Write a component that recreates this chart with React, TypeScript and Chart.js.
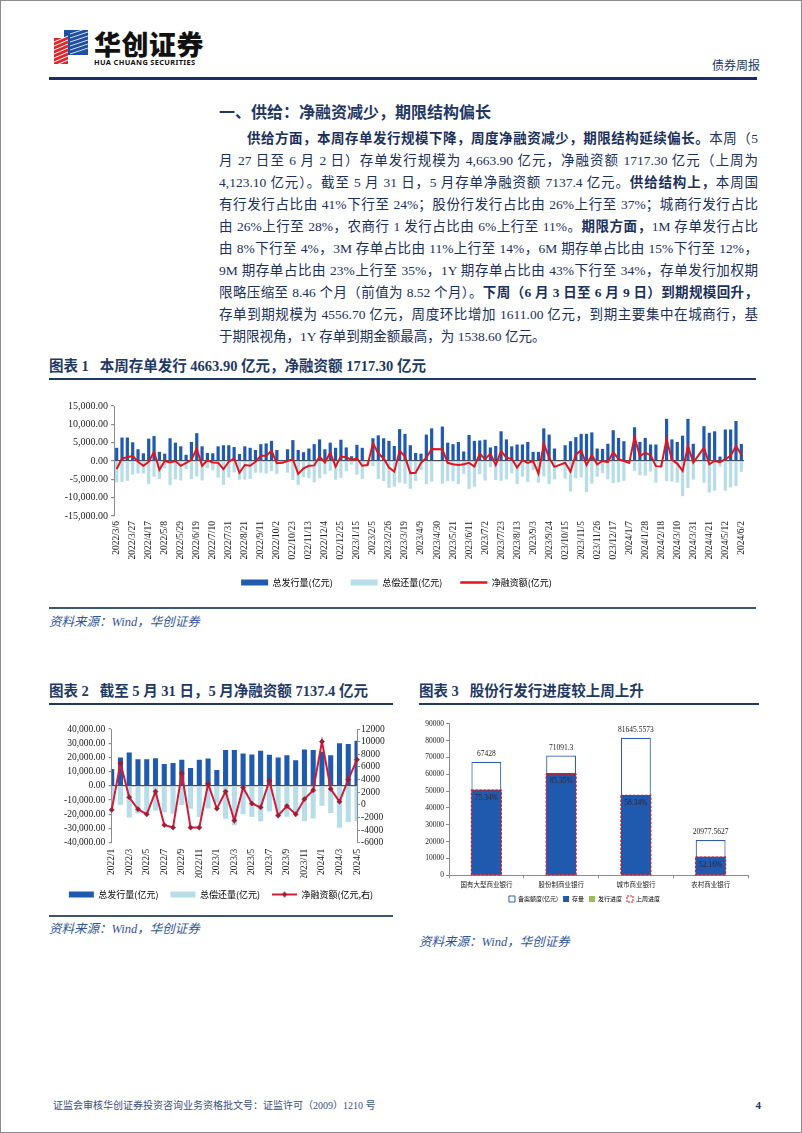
import React, { useEffect, useRef } from 'react';
import { Chart, registerables } from 'chart.js';

Chart.register(...registerables);

const SERIF = "'Liberation Serif', 'Times New Roman', serif";
const CJK = "'Noto Sans CJK SC', 'Noto Sans', sans-serif";
const MIX = "'Liberation Serif', 'Noto Sans CJK SC', serif";
const NAVY = '#1F3864';
const TEXT = '#1b2f5a';
const BLUE = '#1F5AAE';
const LIGHT = '#B7DDE8';
const RED = '#E3141B';
const CRIMSON = '#D01C3A';

Chart.defaults.font.family = SERIF;

// ---------- Chart 1: weekly data (亿元) ----------
function weeklyCategories(count: number): string[] {
  const out: string[] = [];
  const d = new Date(Date.UTC(2022, 2, 6));
  for (let i = 0; i < count; i++) {
    out.push(`${d.getUTCFullYear()}/${d.getUTCMonth() + 1}/${d.getUTCDate()}`);
    d.setUTCDate(d.getUTCDate() + 7);
  }
  return out;
}
const weekLabels = weeklyCategories(118);

const weekIssue = [
  3600, 6400, 6400, 5100, 3200, 2100, 6100, 6800, 2500, 2000,
  6200, 5000, 4000, 1700, 5200, 7600, 4000, 2200, 2100, 4000,
  4300, 4300, 3800, 1900, 4000, 3600, 3000, 4600, 4800, 5500,
  3000, 300, 3200, 5700, 3000, 2400, 3400, 4600, 5900, 3200,
  5000, 3600, 5800, 3700, 1300, 4400, 3600, 200, 6200, 7000,
  6200, 5500, 4100, 8700, 7400, 4300, 2200, 2000, 7200, 8900,
  null, 9400, 5000, 4600, 5200, 2600, 7100, 5500, 5600, 5800,
  3700, 4100, 8100, 5900, 4000, 4500, 4500, 5200, 2500, 2500,
  8900, 7200, 3400, null, 4300, 5400, 6500, 7400, 7400, 7800,
  3400, 3300, 4700, 8400, 6300, 5400, 100, 9200, 5200, 6300,
  4500, 4500, 200, 11500, 5900, 5200, 6900, 11500, 4700, null,
  9500, 7700, 8100, 1200, 8600, 8600, 10900, 4663.9,
];

const weekRepay = [
  -5800, -5700, -5400, -3700, -3400, -3400, -6300, -4300, -4900, -2000,
  -6600, -5000, -5300, -2200, -4900, -4200, -5300, -2000, -2500, -4500,
  -6500, -4500, -3100, -5100, -5100, -4900, -3200, -3200, -3400, -2700,
  -3600, -800, -3200, -5200, -6500, -4400, -4700, -5800, -4700, -3600,
  -2700, -5100, -4600, -2700, -1000, -3700, -4900, -1300, -1400, -4900,
  -5500, -7300, -7000, -5900, -6200, -7600, -5400, -2500, -6300, -5600,
  null, -6200, -5500, -5500, -6300, -3500, -7600, -7000, -3600, -5300,
  -1700, -5200, -5400, -5000, -3400, -6300, -4300, -5700, -2500, -5900,
  -4200, -6300, -5000, null, -4800, -8300, -4700, -4500, -8500, -6200,
  -4300, -3300, -5000, -6000, -5800, -5400, -600, -2700, -3900, -4000,
  -2900, -5900, -1700, -5500, -5600, -5900, -9600, -7400, -5100, null,
  -5900, -8600, -8100, -1500, -8100, -7200, -6800, -2946.6,
];

const weekNet = [
  -2200, 700, 1000, 1400, -200, -1300, -200, 2500, -2400, 0,
  -400, 0, -1300, -500, 300, 3400, -1300, 200, -400, -500,
  -2200, -200, 700, -3200, -1100, -1300, -200, 1400, 1400, 2800,
  -600, -500, 0, 500, -3500, -2000, -1300, -1200, 1200, -400,
  2300, -1500, 1200, 1000, 300, 700, -1300, -1100, 4800, 2100,
  700, -1800, -2900, 2800, 1200, -3300, -3200, -500, 900, 3300,
  null, 3200, -500, -900, -1100, -900, -500, -1500, 2000, 500,
  2000, -1100, 2700, 900, 600, -1800, 200, -500, 0, -3400,
  4700, 900, -1600, null, -500, -2900, 1800, 2900, -1100, 1600,
  -900, 0, -300, 2400, 500, 0, -500, 6500, 1300, 2300,
  1600, -1400, -1500, 6000, 300, -700, -2700, 4100, -400, null,
  3600, -900, 0, -300, 500, 1400, 4100, 1717.3,
];

// ---------- Chart 2: monthly data (亿元) ----------
const monthLabels = [
  '2022/1', '2022/2', '2022/3', '2022/4', '2022/5', '2022/6', '2022/7', '2022/8', '2022/9', '2022/10',
  '2022/11', '2022/12', '2023/1', '2023/2', '2023/3', '2023/4', '2023/5', '2023/6', '2023/7', '2023/8',
  '2023/9', '2023/10', '2023/11', '2023/12', '2024/1', '2024/2', '2024/3', '2024/4', '2024/5',
];
const monthIssue = [
  11800, 20000, 23500, 18800, 18800, 19500, 15300, 16000, 18400, 12500,
  18400, 19300, 11100, 25200, 25200, 22800, 22100, 24700, 21900, 20000,
  21600, 18100, 25600, 25200, 24000, 21600, 29900, 29400, 31800,
];
const monthRepay = [
  -12600, -13400, -22300, -19500, -20300, -17400, -18500, -19600, -13400, -16100,
  -22000, -16000, -11700, -23100, -27700, -20050, -21900, -25100, -18100, -21700,
  -21800, -19600, -24700, -22900, -14000, -19100, -29400, -25400, -24662.6,
];
const monthNet = [
  -800, 6600, 1200, -700, -1500, 2100, -3200, -3600, 5000, -3600,
  -3600, 3300, -600, 2100, -2500, 2750, 200, -400, 3800, -1700,
  -200, -1500, 900, 2300, 10000, 2500, 500, 4000, 7137.4,
];

// ---------- Chart 3: bank types ----------
const bankTypes = ['国有大型商业银行', '股份制商业银行', '城市商业银行', '农村商业银行'];
const quota = [67428, 71091.3, 81645.5573, 20977.5627];
const stock = [50800, 60680, 47630, 10940];
const progress = [75.34, 85.35, 58.34, 52.16];
const prevStock = [50600, 59900, 47500, 10800];

const fmt2 = (v: any) =>
  Number(v).toLocaleString('en-US', { minimumFractionDigits: 2, maximumFractionDigits: 2 });

function WeeklyChart() {
  const ref = useRef<HTMLCanvasElement>(null);
  useEffect(() => {
    const chart = new Chart(ref.current as HTMLCanvasElement, {
      type: 'bar',
      data: {
        labels: weekLabels,
        datasets: [
          { type: 'bar', label: '总发行量(亿元)', data: weekIssue as any, backgroundColor: BLUE, categoryPercentage: 0.6, barPercentage: 1, order: 2 },
          { type: 'bar', label: '总偿还量(亿元)', data: weekRepay as any, backgroundColor: LIGHT, categoryPercentage: 0.6, barPercentage: 1, order: 3 },
          { type: 'line', label: '净融资额(亿元)', data: weekNet as any, borderColor: RED, borderWidth: 2, pointRadius: 0, spanGaps: true, tension: 0, order: 1 },
        ],
      } as any,
      options: {
        animation: false,
        responsive: false,
        events: [],
        layout: { padding: { top: 13, right: 17, bottom: 0, left: 0 } },
        plugins: {
          tooltip: { enabled: false },
          legend: {
            position: 'bottom',
            labels: {
              usePointStyle: true,
              pointStyleWidth: 27,
              boxHeight: 6,
              padding: 18,
              color: '#222',
              font: { family: CJK, size: 9 },
              generateLabels: () => [
                { text: '总发行量(亿元)', fillStyle: BLUE, strokeStyle: BLUE, lineWidth: 0, pointStyle: 'rect', datasetIndex: 0, hidden: false },
                { text: '总偿还量(亿元)', fillStyle: LIGHT, strokeStyle: LIGHT, lineWidth: 0, pointStyle: 'rect', datasetIndex: 1, hidden: false },
                { text: '净融资额(亿元)', fillStyle: RED, strokeStyle: RED, lineWidth: 2.5, pointStyle: 'line', datasetIndex: 2, hidden: false },
              ] as any,
            },
          },
        },
        scales: {
          x: {
            stacked: true,
            offset: true,
            grid: { display: false, drawTicks: false },
            border: { display: false },
            ticks: {
              autoSkip: false,
              minRotation: 90,
              maxRotation: 90,
              padding: 5,
              color: '#222',
              font: { family: SERIF, size: 9.5 },
              callback: (_v: any, i: number) => (i % 3 === 0 ? weekLabels[i] : ''),
            },
            afterFit: (s: any) => { s.height = 44; },
          },
          y: {
            min: -15000,
            max: 15000,
            ticks: { autoSkip: false, stepSize: 5000, callback: fmt2, color: '#222', font: { family: SERIF, size: 10 }, padding: 3 },
            grid: {
              color: (c: any) => (c.tick && c.tick.value === 0 ? '#4d4d4d' : 'rgba(0,0,0,0)'),
              tickColor: '#8c8c8c',
              tickLength: 3,
              lineWidth: 1.2,
            },
            border: { color: '#8c8c8c' },
            afterFit: (s: any) => { s.width = 65; },
          },
        },
      } as any,
    });
    return () => chart.destroy();
  }, []);
  return (
    <canvas ref={ref} width={712} height={204}
      style={{ position: 'absolute', left: 48, top: 392, width: 712, height: 204 }} />
  );
}

function makeLineMarker(): HTMLCanvasElement {
  const c = document.createElement('canvas');
  c.width = 25; c.height = 8;
  const g = c.getContext('2d') as CanvasRenderingContext2D;
  g.strokeStyle = CRIMSON; g.lineWidth = 2;
  g.beginPath(); g.moveTo(0, 4); g.lineTo(25, 4); g.stroke();
  g.fillStyle = '#9E1B32';
  g.beginPath(); g.moveTo(12.5, 1); g.lineTo(15.5, 4); g.lineTo(12.5, 7); g.lineTo(9.5, 4); g.closePath(); g.fill();
  return c;
}

function MonthlyChart() {
  const ref = useRef<HTMLCanvasElement>(null);
  useEffect(() => {
    const marker = makeLineMarker();
    const chart = new Chart(ref.current as HTMLCanvasElement, {
      type: 'bar',
      data: {
        labels: monthLabels,
        datasets: [
          { type: 'bar', label: '总发行量(亿元)', data: monthIssue, backgroundColor: BLUE, categoryPercentage: 0.58, barPercentage: 1, clip: 0, yAxisID: 'y', order: 2 },
          { type: 'bar', label: '总偿还量(亿元)', data: monthRepay, backgroundColor: LIGHT, categoryPercentage: 0.58, barPercentage: 1, clip: 0, yAxisID: 'y', order: 3 },
          {
            type: 'line', label: '净融资额(亿元,右)', data: monthNet, yAxisID: 'y1', borderColor: CRIMSON, borderWidth: 2,
            pointStyle: 'rectRot', pointRadius: 2.6, pointBackgroundColor: '#9E1B32', pointBorderColor: '#9E1B32', pointBorderWidth: 0.5,
            tension: 0, order: 1,
          },
        ],
      } as any,
      options: {
        animation: false,
        responsive: false,
        events: [],
        layout: { padding: { top: 18, right: 0, bottom: 0, left: 0 } },
        plugins: {
          tooltip: { enabled: false },
          legend: {
            position: 'bottom',
            labels: {
              usePointStyle: true,
              pointStyleWidth: 25,
              boxHeight: 6,
              padding: 12,
              color: '#222',
              font: { family: CJK, size: 9 },
              generateLabels: () => [
                { text: '总发行量(亿元)', fillStyle: BLUE, strokeStyle: BLUE, lineWidth: 0, pointStyle: 'rect', datasetIndex: 0, hidden: false },
                { text: '总偿还量(亿元)', fillStyle: LIGHT, strokeStyle: LIGHT, lineWidth: 0, pointStyle: 'rect', datasetIndex: 1, hidden: false },
                { text: '净融资额(亿元,右)', fillStyle: CRIMSON, strokeStyle: CRIMSON, lineWidth: 0, pointStyle: marker, datasetIndex: 2, hidden: false },
              ] as any,
            },
          },
        },
        scales: {
          x: {
            stacked: true,
            offset: false,
            grid: { display: false, drawTicks: false, offset: false },
            border: { display: false },
            ticks: {
              autoSkip: false,
              minRotation: 90,
              maxRotation: 90,
              padding: 6,
              color: '#222',
              font: { family: SERIF, size: 9.5 },
              callback: (_v: any, i: number) => (i % 2 === 0 ? monthLabels[i] : ''),
            },
            afterFit: (s: any) => { s.height = 35.3; },
          },
          y: {
            position: 'left',
            min: -40000,
            max: 40000,
            ticks: { autoSkip: false, stepSize: 10000, callback: fmt2, color: '#222', font: { family: SERIF, size: 9.5 }, padding: 3.5 },
            grid: {
              color: (c: any) => (c.tick && c.tick.value === 0 ? '#4d4d4d' : 'rgba(0,0,0,0)'),
              tickColor: '#8c8c8c',
              tickLength: 3,
              lineWidth: 1.2,
            },
            border: { color: '#8c8c8c' },
            afterFit: (s: any) => { s.width = 62.7; },
          },
          y1: {
            position: 'right',
            min: -6000,
            max: 12000,
            ticks: { autoSkip: false, stepSize: 2000, color: '#222', font: { family: SERIF, size: 9.5 }, padding: 1, callback: (v: any) => String(v) },
            grid: { display: true, drawOnChartArea: false, tickColor: '#8c8c8c', tickLength: 3 },
            border: { color: '#8c8c8c' },
            afterFit: (s: any) => { s.width = 36; },
          },
        },
      } as any,
    });
    return () => chart.destroy();
  }, []);
  return (
    <canvas ref={ref} width={344} height={198}
      style={{ position: 'absolute', left: 48, top: 710, width: 344, height: 198 }} />
  );
}

const bankExtras = {
  id: 'bankExtras',
  afterDatasetsDraw(chart: any) {
    const ctx = chart.ctx as CanvasRenderingContext2D;
    ctx.save();
    // 上周进度: dashed outline
    const prevMeta = chart.getDatasetMeta(3);
    ctx.setLineDash([2.5, 1.5]);
    ctx.strokeStyle = '#E3141B';
    ctx.lineWidth = 1.2;
    prevMeta.data.forEach((bar: any) => {
      const p = bar.getProps(['x', 'y', 'base', 'width'], true);
      ctx.strokeRect(p.x - p.width / 2, p.y, p.width, p.base - p.y);
    });
    ctx.setLineDash([]);
    // quota value labels
    const qMeta = chart.getDatasetMeta(0);
    ctx.font = `7.5px ${SERIF}`;
    ctx.fillStyle = '#222';
    ctx.textAlign = 'center';
    ctx.textBaseline = 'bottom';
    qMeta.data.forEach((bar: any, i: number) => {
      ctx.fillText(String(quota[i]), bar.x, bar.y - 4);
    });
    // progress labels
    const sMeta = chart.getDatasetMeta(1);
    ctx.font = `7.5px ${SERIF}`;
    ctx.textBaseline = 'middle';
    ctx.fillStyle = '#3a2330';
    sMeta.data.forEach((bar: any, i: number) => {
      ctx.fillText(progress[i].toFixed(2) + '%', bar.x, bar.y + 8);
    });
    ctx.restore();
  },
};

function BankChart() {
  const ref = useRef<HTMLCanvasElement>(null);
  useEffect(() => {
    const chart = new Chart(ref.current as HTMLCanvasElement, {
      type: 'bar',
      data: {
        labels: bankTypes,
        datasets: [
          { type: 'bar', label: '备案额度(亿元)', data: quota, backgroundColor: '#ffffff', borderColor: '#2E5DAA', borderWidth: 1.2, borderSkipped: false, categoryPercentage: 0.4, barPercentage: 1, order: 3 },
          { type: 'bar', label: '存量', data: stock, backgroundColor: BLUE, categoryPercentage: 0.4, barPercentage: 1, order: 2 },
          { type: 'line', label: '发行进度', data: progress, yAxisID: 'yp', showLine: false, pointRadius: 0, borderColor: '#9BBB59', order: 0 },
          { type: 'bar', label: '上周进度', data: prevStock, backgroundColor: 'rgba(0,0,0,0)', borderWidth: 0, categoryPercentage: 0.4, barPercentage: 1, order: 1 },
        ],
      } as any,
      options: {
        animation: false,
        responsive: false,
        events: [],
        layout: { padding: { top: 8.7, right: 18, bottom: 0, left: 0 } },
        plugins: {
          tooltip: { enabled: false },
          legend: {
            position: 'bottom',
            labels: {
              usePointStyle: true,
              pointStyleWidth: 6,
              boxHeight: 6,
              padding: 5,
              color: '#222',
              font: { family: CJK, size: 6 },
              generateLabels: () => [
                { text: '备案额度(亿元)', fillStyle: '#fff', strokeStyle: '#2E5DAA', lineWidth: 1, pointStyle: 'rect', datasetIndex: 0, hidden: false },
                { text: '存量', fillStyle: BLUE, strokeStyle: BLUE, lineWidth: 0, pointStyle: 'rect', datasetIndex: 1, hidden: false },
                { text: '发行进度', fillStyle: '#9BBB59', strokeStyle: '#9BBB59', lineWidth: 0, pointStyle: 'rect', datasetIndex: 2, hidden: false },
                { text: '上周进度', fillStyle: '#fff', strokeStyle: '#E3141B', lineWidth: 1, lineDash: [2, 1], pointStyle: 'rect', datasetIndex: 3, hidden: false },
              ] as any,
            },
          },
        },
        scales: {
          x: {
            stacked: true,
            offset: true,
            grid: { display: true, drawOnChartArea: false, drawTicks: true, tickLength: 3, offset: true, color: '#8c8c8c' },
            border: { color: '#8c8c8c' },
            ticks: { color: '#222', font: { family: CJK, size: 6.5 }, padding: 2, maxRotation: 0, minRotation: 0, autoSkip: false },
            afterFit: (s: any) => { s.height = 15.7; },
          },
          y: {
            min: 0,
            max: 90000,
            ticks: { autoSkip: false, stepSize: 10000, color: '#222', font: { family: SERIF, size: 7.5 }, padding: 2, callback: (v: any) => String(v) },
            grid: { display: true, drawOnChartArea: false, tickLength: 3, color: '#8c8c8c' },
            border: { color: '#8c8c8c' },
            afterFit: (s: any) => { s.width = 28; },
          },
          yp: { display: false, min: 0, max: 150 },
        },
      } as any,
      plugins: [bankExtras],
    });
    return () => chart.destroy();
  }, []);
  return (
    <canvas ref={ref} width={345} height={197}
      style={{ position: 'absolute', left: 420, top: 714, width: 345, height: 197 }} />
  );
}

function Logo() {
  return (
    <svg width="38" height="38" viewBox="0 0 38 38" style={{ position: 'absolute', left: 51, top: 27 }}>
      <polygon points="12,2 36,2 36,27 12,27" fill="#1E4FA3" />
      <polygon points="2,10 16,10 16,36 2,36" fill="#E0262B" />
      {[0, 1, 2, 3, 4, 5, 6].map((k) => (
        <line key={'r' + k} x1={2} y1={14 + k * 4} x2={16} y2={8 + k * 4} stroke="#fff" strokeWidth={1} />
      ))}
      {[0, 1, 2, 3, 4, 5].map((k) => (
        <line key={'b' + k} x1={18} y1={6 + k * 4} x2={36} y2={0 + k * 4} stroke="#fff" strokeWidth={0.8} />
      ))}
    </svg>
  );
}

const B = ({ children }: any) => <b style={{ fontWeight: 700 }}>{children}</b>;

const bodyLines = [
  <><B>供给方面，本周存单发行规模下降，周度净融资减少，期限结构延续偏长。</B>本周（5</>,
  <>月 27 日至 6 月 2 日）存单发行规模为 4,663.90 亿元，净融资额 1717.30 亿元（上周为</>,
  <>4,123.10 亿元）。截至 5 月 31 日，5 月存单净融资额 7137.4 亿元。<B>供给结构上，</B>本周国</>,
  <>有行发行占比由 41%下行至 24%；股份行发行占比由 26%上行至 37%；城商行发行占比</>,
  <>由 26%上行至 28%，农商行 1 发行占比由 6%上行至 11%。<B>期限方面，</B>1M 存单发行占比</>,
  <>由 8%下行至 4%，3M 存单占比由 11%上行至 14%，6M 期存单占比由 15%下行至 12%，</>,
  <>9M 期存单占比由 23%上行至 35%，1Y 期存单占比由 43%下行至 34%，存单发行加权期</>,
  <>限略压缩至 8.46 个月（前值为 8.52 个月）。<B>下周（6 月 3 日至 6 月 9 日）到期规模回升，</B></>,
  <>存单到期规模为 4556.70 亿元，周度环比增加 1611.00 亿元，到期主要集中在城商行，基</>,
  <>于期限视角，1Y 存单到期金额最高，为 1538.60 亿元。</>,
];

const abs = (s: any) => ({ position: 'absolute' as const, ...s });

function Title({ left, top, children }: any) {
  return (
    <div style={abs({ left, top, fontFamily: MIX, fontSize: 14.5, fontWeight: 700, color: NAVY, lineHeight: '18px', whiteSpace: 'nowrap' })}>
      {children}
    </div>
  );
}

function Rule({ left, top, width, h = 2, color = NAVY }: any) {
  return <div style={abs({ left, top, width, height: h, background: color })} />;
}

function Source({ left, top }: any) {
  return (
    <div style={abs({ left, top, fontFamily: MIX, fontStyle: 'italic', fontSize: 12.5, color: '#2F5597', lineHeight: '16px', whiteSpace: 'nowrap' })}>
      资料来源：Wind，华创证券
    </div>
  );
}

export default function App() {
  return (
    <div style={abs({ left: 0, top: 0, width: 802, height: 1133, background: '#fff', border: '1px solid #8c8c8c', boxSizing: 'border-box', overflow: 'hidden' })}>
      <Logo />
      <div style={abs({ left: 93, top: 27, fontFamily: CJK, fontWeight: 900, fontSize: 27, lineHeight: '32px', color: '#111', letterSpacing: 0.5 })}>华创证券</div>
      <div style={abs({ left: 93, top: 57, fontFamily: "'Noto Sans', sans-serif", fontWeight: 700, fontSize: 7.4, lineHeight: '9px', color: '#111', letterSpacing: 0.35, whiteSpace: 'nowrap' })}>HUA CHUANG SECURITIES</div>
      <div style={abs({ left: 709, top: 56, width: 50, textAlign: 'right', fontFamily: CJK, fontSize: 12, lineHeight: '16px', color: NAVY })}>债券周报</div>
      <Rule left={48} top={76} width={708} h={3} color="#17306B" />

      <div style={abs({ left: 218, top: 102, fontFamily: MIX, fontSize: 16, fontWeight: 700, color: NAVY, lineHeight: '20px', whiteSpace: 'nowrap' })}>
        一、供给：净融资减少，期限结构偏长
      </div>

      <div style={abs({ left: 218, top: 127, width: 539, fontFamily: MIX, fontSize: 13.5, color: TEXT, lineHeight: '22px' })}>
        {bodyLines.map((ln, i) => (
          <div key={i} style={{
            textAlign: i === bodyLines.length - 1 ? 'left' : 'justify',
            textAlignLast: i === bodyLines.length - 1 ? 'left' : 'justify',
            textIndent: i === 0 ? 28 : 0,
            height: 22,
          } as any}>{ln}</div>
        ))}
      </div>

      <Title left={48} top={356}>图表 1&nbsp;&nbsp;&nbsp;本周存单发行 4663.90 亿元，净融资额 1717.30 亿元</Title>
      <Rule left={48} top={377} width={707} h={2} />
      <WeeklyChart />
      <Rule left={48} top={606} width={707} h={1.5} color="#3E5675" />
      <Source left={48} top={613} />

      <Title left={48} top={681}>图表 2&nbsp;&nbsp;&nbsp;截至 5 月 31 日，5 月净融资额 7137.4 亿元</Title>
      <Rule left={48} top={702} width={344} h={2} />
      <MonthlyChart />
      <Rule left={48} top={914} width={344} h={1.5} color="#3E5675" />
      <Source left={48} top={920} />

      <Title left={418} top={681}>图表 3&nbsp;&nbsp;&nbsp;股份行发行进度较上周上升</Title>
      <Rule left={418} top={702} width={340} h={2} />
      <BankChart />
      <Source left={418} top={933} />

      <div style={abs({ left: 52, top: 1098, fontFamily: MIX, fontSize: 10, color: '#3b4e7a', lineHeight: '14px', whiteSpace: 'nowrap' })}>
        证监会审核华创证券投资咨询业务资格批文号：证监许可（2009）1210 号
      </div>
      <div style={abs({ left: 740, top: 1097, width: 20, textAlign: 'right', fontFamily: SERIF, fontSize: 11, fontWeight: 700, color: NAVY, lineHeight: '14px' })}>4</div>
    </div>
  );
}
